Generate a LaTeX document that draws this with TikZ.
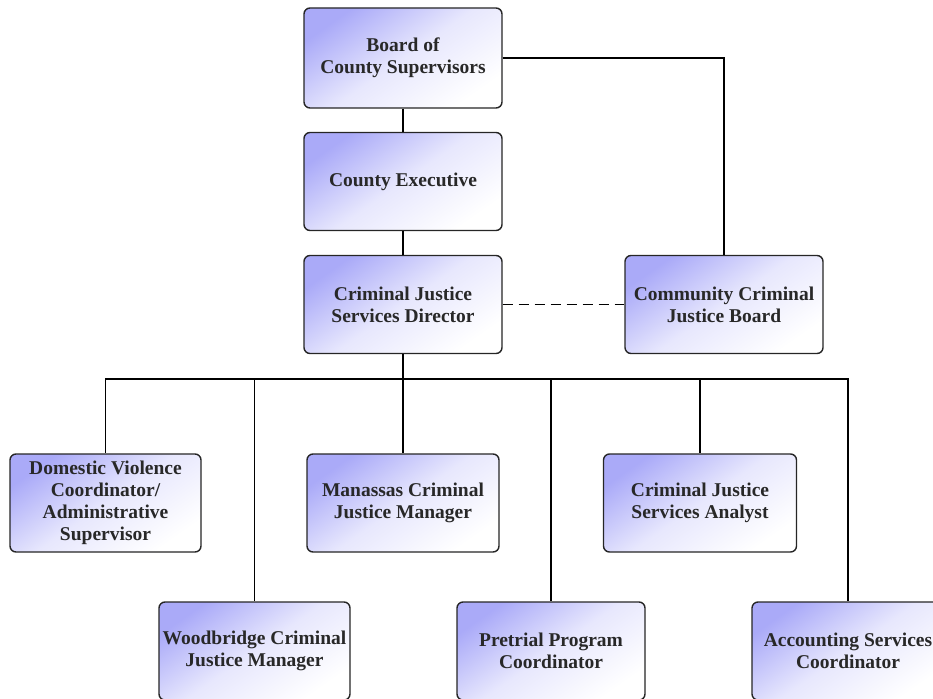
\documentclass[tikz,border=0pt]{standalone}
\usepackage{fontspec}
\newfontfamily\boxfont{Liberation Serif}
\begin{document}
\definecolor{boxlav}{RGB}{170,170,248}
\definecolor{boxtext}{RGB}{40,40,40}
\begin{tikzpicture}[x=1pt,y=-1pt,
  unit/.style={draw=black!85, line width=1.4pt, rounded corners=6pt,
    shading=axis, top color=boxlav, bottom color=white, middle color=boxlav!28,
    shading angle=35, align=center, inner sep=0pt,
    font=\boxfont\bfseries\fontsize{19.5}{22}\selectfont, text=boxtext,
    minimum width=#1, minimum height=98},
  unit/.default=192,
  link/.style={line width=1.4pt, draw=black}]
  \useasboundingbox (0,0) rectangle (933,698);
  \clip (0,0) rectangle (933,698);

  % chain of command
  \node[unit=198, minimum height=100] (board) at (403,58) {Board of\\County Supervisors};
  \node[unit=198] (exec) at (403,181.5) {County Executive};
  \node[unit=198] (dir) at (403,304.5) {Criminal Justice\\Services Director};
  \node[unit=198] (ccjb) at (724,304.5) {Community Criminal\\Justice Board};

  % staff reporting to the director
  \node[unit=191] (dv) at (105.5,503) {Domestic Violence\\Coordinator/\\Administrative\\Supervisor};
  \node[unit] (man) at (403,503) {Manassas Criminal\\Justice Manager};
  \node[unit=193] (ana) at (700,503) {Criminal Justice\\Services Analyst};
  \node[unit=191] (wood) at (254.5,651) {Woodbridge Criminal\\Justice Manager};
  \node[unit=188] (pre) at (551,651) {Pretrial Program\\Coordinator};
  \node[unit] (acc) at (848,651) {Accounting Services\\Coordinator};

  % connectors
  \draw[link] (board) -- (exec);
  \draw[link] (exec) -- (dir);
  \draw[link] (board.east) -| (ccjb.north);
  \draw[link, dash pattern=on 10pt off 6pt] (dir.east) -- (ccjb.west);

  \coordinate (bus) at (403,379);
  \draw[link] (dir.south) -- (bus);
  \foreach \c in {dv, wood, man, pre, ana, acc}
    \draw[link] (bus) -| (\c.north);
\end{tikzpicture}
\end{document}
